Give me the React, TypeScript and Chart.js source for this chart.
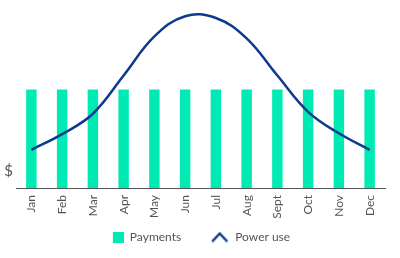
import React, { useEffect, useRef } from "react";
import { Chart, registerables } from "chart.js";

Chart.register(...registerables);

const months = ["Jan", "Feb", "Mar", "Apr", "May", "Jun", "Jul", "Aug", "Sept", "Oct", "Nov", "Dec"];
const payments = [56, 56, 56, 56, 56, 56, 56, 56, 56, 56, 56, 56];
const powerUse = [21.7, 30.6, 42.2, 63.9, 86.1, 97.6, 96.6, 85, 63.9, 43.3, 31.1, 21.7];
const yAxisLabel = "$";
const yAxisLabelAt = 9.5;
const legendNames = ["Payments", "Power use"];

const TEAL = "#00EBB4";
const BLUE = "#0B3A8E";
const GREY = "#555555";
const FONT = "Lato, 'Noto Sans', sans-serif";

function makeSquare(): HTMLCanvasElement {
  const c = document.createElement("canvas");
  c.width = 38;
  c.height = 11;
  const ctx = c.getContext("2d")!;
  ctx.fillStyle = TEAL;
  ctx.fillRect(27, 0, 11, 11);
  return c;
}

function makeChevron(): HTMLCanvasElement {
  const c = document.createElement("canvas");
  c.width = 38;
  c.height = 11;
  const ctx = c.getContext("2d")!;
  ctx.strokeStyle = BLUE;
  ctx.lineWidth = 2.5;
  ctx.lineJoin = "miter";
  ctx.beginPath();
  ctx.moveTo(21, 10);
  ctx.lineTo(28.5, 2);
  ctx.lineTo(36, 10);
  ctx.stroke();
  return c;
}

export default function App() {
  const ref = useRef<HTMLCanvasElement>(null);
  useEffect(() => {
    document.body.style.margin = "0";
    const sq = makeSquare();
    const ch = makeChevron();
    const chart = new Chart(ref.current!, {
      data: {
        labels: months,
        datasets: [
          {
            type: "bar",
            label: legendNames[0],
            data: payments,
            backgroundColor: TEAL,
            barPercentage: 0.34,
            categoryPercentage: 1,
            order: 2,
          },
          {
            type: "line",
            label: legendNames[1],
            data: powerUse,
            borderColor: BLUE,
            borderWidth: 2.5,
            pointRadius: 0,
            tension: 0.4,
            fill: false,
            order: 1,
          },
        ],
      },
      options: {
        responsive: false,
        animation: false,
        layout: { padding: { top: 8, bottom: 5, left: -12, right: 12 } },
        plugins: {
          tooltip: { enabled: false },
          legend: {
            position: "bottom",
            labels: {
              usePointStyle: true,
              pointStyleWidth: 38,
              padding: 10,
              color: GREY,
              font: { family: FONT, size: 12 },
              generateLabels: () => [
                { text: legendNames[0], pointStyle: sq, datasetIndex: 0, fontColor: GREY, lineWidth: 0, strokeStyle: "transparent", fillStyle: TEAL },
                { text: legendNames[1], pointStyle: ch, datasetIndex: 1, fontColor: GREY, lineWidth: 0, strokeStyle: "transparent", fillStyle: BLUE },
              ],
            },
          },
        },
        scales: {
          x: {
            grid: { display: false, drawTicks: false },
            border: { display: true, color: GREY, width: 1 },
            ticks: {
              color: GREY,
              font: { family: FONT, size: 12 },
              minRotation: 90,
              maxRotation: 90,
              autoSkip: false,
              padding: 7,
            },
            afterFit: (s: any) => {
              s.height = 33;
            },
          },
          y: {
            min: 0,
            max: 100,
            grid: { display: false, drawTicks: false },
            border: { display: false },
            ticks: {
              color: GREY,
              font: { family: FONT, size: 15 },
              padding: 3,
              callback: () => yAxisLabel,
            },
            afterBuildTicks: (s: any) => {
              s.ticks = [{ value: yAxisLabelAt }];
            },
            afterFit: (s: any) => {
              s.width = 28;
            },
          },
          yR: {
            position: "right",
            display: true,
            grid: { display: false, drawTicks: false },
            border: { display: false },
            ticks: { display: false },
            afterFit: (s: any) => {
              s.width = 3;
            },
          },
        },
      },
    } as any);
    return () => chart.destroy();
  }, []);
  return <canvas ref={ref} width={400} height={258} style={{ display: "block" }} />;
}
